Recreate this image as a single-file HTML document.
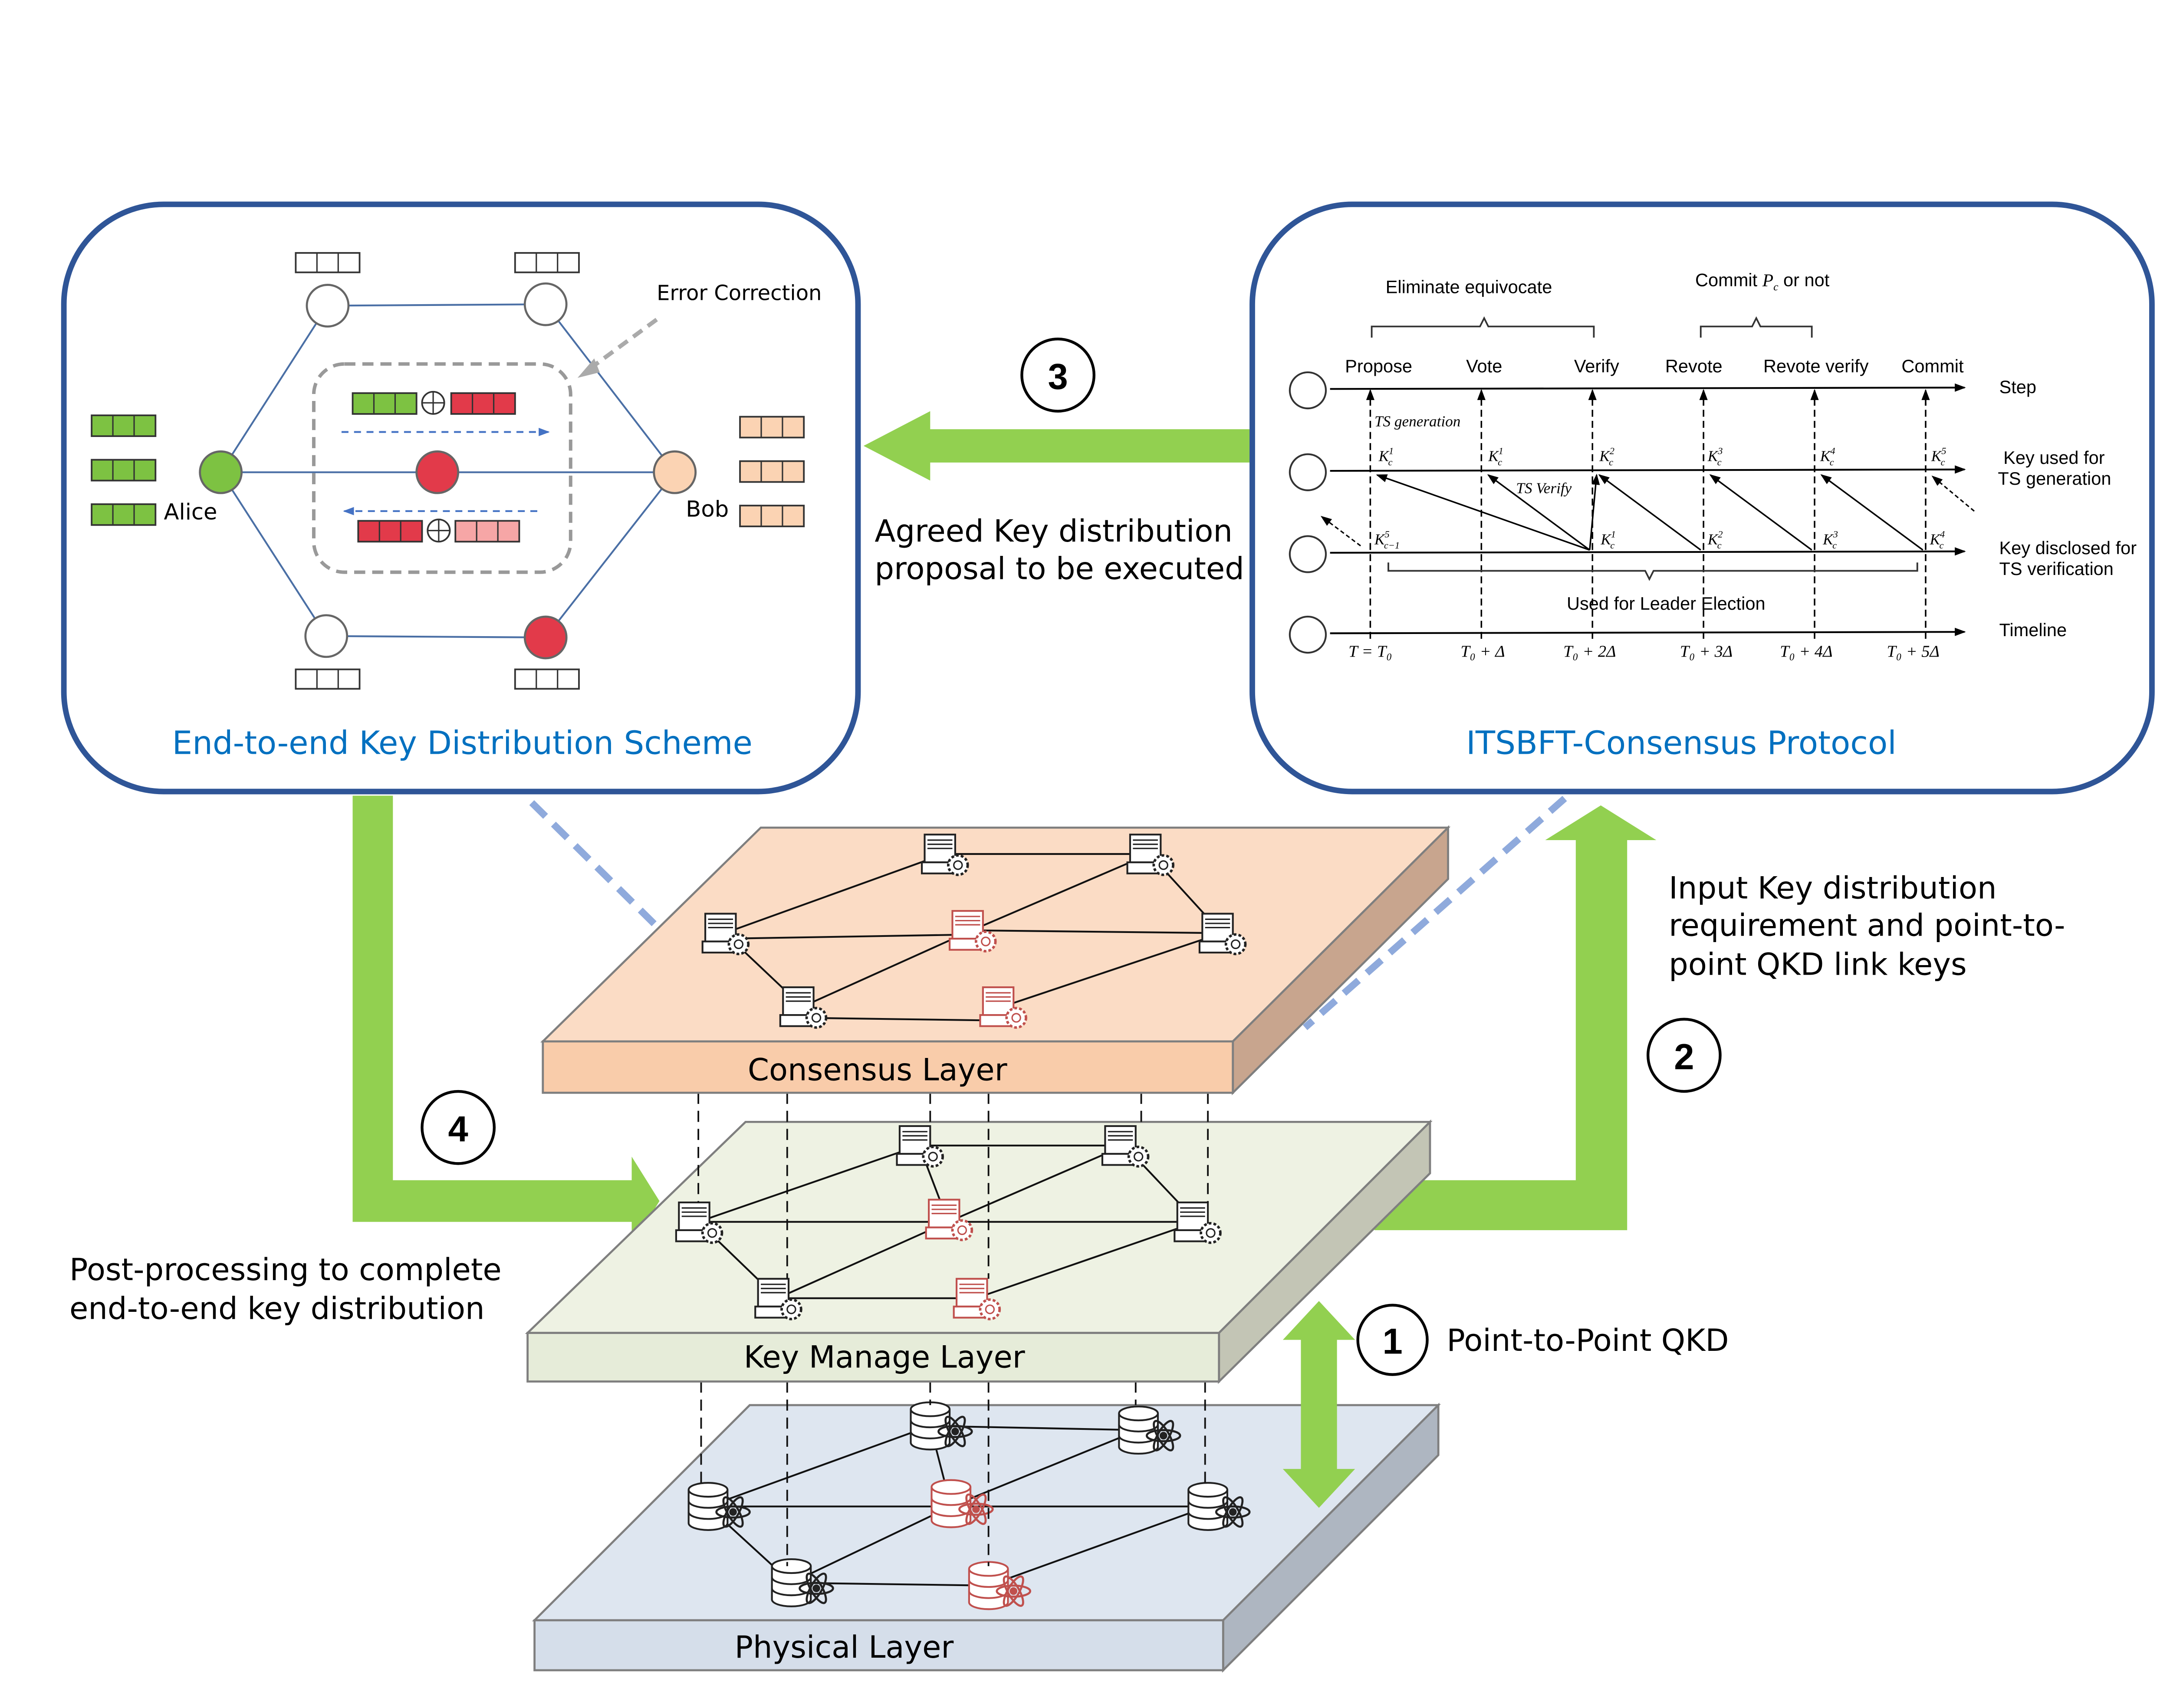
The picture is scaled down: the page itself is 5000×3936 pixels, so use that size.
<!DOCTYPE html>
<html><head><meta charset="utf-8"><style>html,body{margin:0;padding:0;background:#fff}svg{display:block}</style></head>
<body>
<svg width="5000" height="3936" viewBox="0 0 1563 1230" xmlns="http://www.w3.org/2000/svg" font-family="Liberation Sans, sans-serif">
<defs>
<marker id="ah" markerWidth="8" markerHeight="8" refX="7" refY="4" orient="auto" markerUnits="userSpaceOnUse"><path d="M0,1 L8,4 L0,7 z" fill="#000"/></marker>
<marker id="ahb" markerWidth="8" markerHeight="8" refX="7" refY="4" orient="auto" markerUnits="userSpaceOnUse"><path d="M0,1 L8,4 L0,7 z" fill="#4472c4"/></marker>
<g id="srv"><rect x="-14" y="-14" width="22" height="20" fill="#fff" stroke="#222" stroke-width="1.3"/><line x1="-12" y1="-10" x2="6" y2="-10" stroke="#222"/><line x1="-12" y1="-7" x2="6" y2="-7" stroke="#222"/><line x1="-12" y1="-4" x2="6" y2="-4" stroke="#222"/><rect x="-16" y="6" width="26" height="8" fill="#fff" stroke="#222" stroke-width="1.3"/><circle cx="10" cy="8" r="7" fill="#fff" stroke="#222" stroke-width="1.8" stroke-dasharray="2 1.5"/><circle cx="10" cy="8" r="3" fill="none" stroke="#222"/></g>
<g id="srvr"><rect x="-14" y="-14" width="22" height="20" fill="#fff" stroke="#c0504d" stroke-width="1.3"/><line x1="-12" y1="-10" x2="6" y2="-10" stroke="#c0504d"/><line x1="-12" y1="-7" x2="6" y2="-7" stroke="#c0504d"/><line x1="-12" y1="-4" x2="6" y2="-4" stroke="#c0504d"/><rect x="-16" y="6" width="26" height="8" fill="#fff" stroke="#c0504d" stroke-width="1.3"/><circle cx="10" cy="8" r="7" fill="#fff" stroke="#c0504d" stroke-width="1.8" stroke-dasharray="2 1.5"/><circle cx="10" cy="8" r="3" fill="none" stroke="#c0504d"/></g>
<g id="db"><path d="M-14,-12 v24 a14,5 0 0 0 28,0 v-24" fill="#fff" stroke="#222" stroke-width="1.3"/><ellipse cx="0" cy="-12" rx="14" ry="5" fill="#fff" stroke="#222" stroke-width="1.3"/><path d="M-14,-4 a14,5 0 0 0 28,0 M-14,4 a14,5 0 0 0 28,0" fill="none" stroke="#222" stroke-width="1.3"/><g transform="translate(18,4)" fill="none" stroke="#222" stroke-width="1.5"><ellipse rx="12" ry="4"/><ellipse rx="12" ry="4" transform="rotate(60)"/><ellipse rx="12" ry="4" transform="rotate(-60)"/><circle r="2" fill="#222"/></g></g>
<g id="dbr"><path d="M-14,-12 v24 a14,5 0 0 0 28,0 v-24" fill="#fff" stroke="#c0504d" stroke-width="1.3"/><ellipse cx="0" cy="-12" rx="14" ry="5" fill="#fff" stroke="#c0504d" stroke-width="1.3"/><path d="M-14,-4 a14,5 0 0 0 28,0 M-14,4 a14,5 0 0 0 28,0" fill="none" stroke="#c0504d" stroke-width="1.3"/><g transform="translate(18,4)" fill="none" stroke="#c0504d" stroke-width="1.5"><ellipse rx="12" ry="4"/><ellipse rx="12" ry="4" transform="rotate(60)"/><ellipse rx="12" ry="4" transform="rotate(-60)"/><circle r="2" fill="#c0504d"/></g></g>
<g id="b3w"><rect x="0" y="0" width="46" height="14" fill="#fff" stroke="#333" stroke-width="1.2"/><line x1="15.3" y1="0" x2="15.3" y2="14" stroke="#333"/><line x1="30.6" y1="0" x2="30.6" y2="14" stroke="#333"/></g>
<g id="b3g"><rect x="0" y="0" width="46" height="15" fill="#7dc242" stroke="#333" stroke-width="1.2"/><line x1="15.3" y1="0" x2="15.3" y2="15" stroke="#333"/><line x1="30.6" y1="0" x2="30.6" y2="15" stroke="#333"/></g>
<g id="b3p"><rect x="0" y="0" width="46" height="15" fill="#fbd3b3" stroke="#333" stroke-width="1.2"/><line x1="15.3" y1="0" x2="15.3" y2="15" stroke="#333"/><line x1="30.6" y1="0" x2="30.6" y2="15" stroke="#333"/></g>
<g id="b3r"><rect x="0" y="0" width="46" height="15" fill="#e23a4a" stroke="#333" stroke-width="1.2"/><line x1="15.3" y1="0" x2="15.3" y2="15" stroke="#333"/><line x1="30.6" y1="0" x2="30.6" y2="15" stroke="#333"/></g>
<g id="b3k"><rect x="0" y="0" width="46" height="15" fill="#f6a6a6" stroke="#333" stroke-width="1.2"/><line x1="15.3" y1="0" x2="15.3" y2="15" stroke="#333"/><line x1="30.6" y1="0" x2="30.6" y2="15" stroke="#333"/></g>
<g id="xor"><circle r="8" fill="#fff" stroke="#333" stroke-width="1.2"/><line x1="-8" y1="0" x2="8" y2="0" stroke="#333"/><line x1="0" y1="-8" x2="0" y2="8" stroke="#333"/></g>
</defs>

<line x1="383" y1="578" x2="478" y2="672" stroke="#8faadc" stroke-width="5" stroke-dasharray="14 8"/>
<line x1="1127" y1="575" x2="940" y2="740" stroke="#8faadc" stroke-width="5" stroke-dasharray="14 8"/>

<polygon points="900,309 670,309 670,296 622,321 670,346 670,333 900,333" fill="#92d050"/>
<polygon points="254,573 283,573 283,850 455,850 455,833 475,865 455,897 455,880 254,880" fill="#92d050"/>
<polygon points="990,850 1135,850 1135,605 1113,605 1153,580 1193,605 1172,605 1172,886 990,886" fill="#92d050"/>

<!-- physical -->
<polygon points="540,1012 1036,1012 881,1167 385,1167" fill="#dee6f0" stroke="#7f7f7f" stroke-width="1.5"/>
<polygon points="881,1167 1036,1012 1036,1048 881,1203" fill="#aeb6c1" stroke="#7f7f7f" stroke-width="1.5"/>
<rect x="385" y="1167" width="496" height="36" fill="#d5deea" stroke="#7f7f7f" stroke-width="1.5"/>
<text x="608" y="1194" font-size="22" text-anchor="middle" font-family="DejaVu Sans, sans-serif">Physical Layer</text>
<g stroke="#111" stroke-width="1.3">
<line x1="670" y1="1027" x2="820" y2="1030"/><line x1="670" y1="1027" x2="510" y2="1085"/><line x1="510" y1="1085" x2="685" y2="1085"/><line x1="685" y1="1085" x2="870" y2="1085"/><line x1="820" y1="1030" x2="685" y2="1085"/><line x1="510" y1="1085" x2="570" y2="1140"/><line x1="570" y1="1140" x2="712" y2="1142"/><line x1="570" y1="1140" x2="685" y2="1085"/><line x1="712" y1="1142" x2="870" y2="1085"/><line x1="670" y1="1027" x2="685" y2="1085"/>
</g>
<use href="#db" x="670" y="1027"/><use href="#db" x="820" y="1030"/><use href="#db" x="510" y="1085"/><use href="#dbr" x="685" y="1083"/><use href="#db" x="870" y="1085"/><use href="#db" x="570" y="1140"/><use href="#dbr" x="712" y="1142"/>

<!-- key manage -->
<g stroke="#111" stroke-width="1.2" stroke-dasharray="8 5">
<line x1="505" y1="995" x2="505" y2="1070"/><line x1="567" y1="995" x2="567" y2="1128"/><line x1="670" y1="995" x2="670" y2="1012"/><line x1="712" y1="995" x2="712" y2="1128"/><line x1="818" y1="995" x2="818" y2="1012"/><line x1="868" y1="995" x2="868" y2="1070"/>
</g>
<polygon points="537,808 1030,808 878,960 380,960" fill="#eef2e3" stroke="#7f7f7f" stroke-width="1.5"/>
<polygon points="878,960 1030,808 1030,845 878,995" fill="#c3c5b5" stroke="#7f7f7f" stroke-width="1.5"/>
<rect x="380" y="960" width="498" height="35" fill="#e6ecd9" stroke="#7f7f7f" stroke-width="1.5"/>
<text x="637" y="985" font-size="22" text-anchor="middle" font-family="DejaVu Sans, sans-serif">Key Manage Layer</text>
<g stroke="#111" stroke-width="1.3">
<line x1="662" y1="825" x2="810" y2="825"/><line x1="662" y1="825" x2="503" y2="880"/><line x1="503" y1="880" x2="683" y2="880"/><line x1="683" y1="880" x2="862" y2="880"/><line x1="810" y1="825" x2="683" y2="880"/><line x1="503" y1="880" x2="560" y2="935"/><line x1="560" y1="935" x2="703" y2="935"/><line x1="560" y1="935" x2="683" y2="880"/><line x1="703" y1="935" x2="862" y2="880"/><line x1="662" y1="825" x2="683" y2="880"/><line x1="810" y1="825" x2="862" y2="880"/>
</g>
<use href="#srv" x="662" y="825"/><use href="#srv" x="810" y="825"/><use href="#srv" x="503" y="880"/><use href="#srvr" x="683" y="878"/><use href="#srv" x="862" y="880"/><use href="#srv" x="560" y="935"/><use href="#srvr" x="703" y="935"/>

<!-- consensus -->
<g stroke="#111" stroke-width="1.2" stroke-dasharray="8 5">
<line x1="503" y1="787" x2="503" y2="866"/><line x1="567" y1="787" x2="567" y2="921"/><line x1="670" y1="787" x2="670" y2="810"/><line x1="712" y1="787" x2="712" y2="921"/><line x1="822" y1="787" x2="822" y2="810"/><line x1="870" y1="787" x2="870" y2="866"/>
</g>
<polygon points="548,596 1043,596 888,750 391,750" fill="#fbdcc5" stroke="#7f7f7f" stroke-width="1.5"/>
<polygon points="888,750 1043,596 1043,633 888,787" fill="#c8a58e" stroke="#7f7f7f" stroke-width="1.5"/>
<rect x="391" y="750" width="497" height="37" fill="#f9ccaa" stroke="#7f7f7f" stroke-width="1.5"/>
<text x="632" y="778" font-size="22" text-anchor="middle" font-family="DejaVu Sans, sans-serif">Consensus Layer</text>
<g stroke="#111" stroke-width="1.3">
<line x1="680" y1="615" x2="828" y2="615"/><line x1="680" y1="615" x2="522" y2="672"/><line x1="522" y1="676" x2="700" y2="673"/><line x1="700" y1="670" x2="880" y2="672"/><line x1="828" y1="615" x2="700" y2="670"/><line x1="522" y1="672" x2="578" y2="725"/><line x1="578" y1="733" x2="722" y2="735"/><line x1="578" y1="725" x2="700" y2="670"/><line x1="722" y1="725" x2="880" y2="672"/><line x1="828" y1="615" x2="880" y2="672"/>
</g>
<use href="#srv" x="680" y="615"/><use href="#srv" x="828" y="615"/><use href="#srv" x="522" y="672"/><use href="#srvr" x="700" y="670"/><use href="#srv" x="880" y="672"/><use href="#srv" x="578" y="725"/><use href="#srvr" x="722" y="725"/>

<!-- double arrow 1 (in front of layers) -->
<polygon points="950,937 976,965 963,965 963,1058 976,1058 950,1086 924,1058 937,1058 937,965 924,965" fill="#92d050"/>

<g fill="#fff" stroke="#000" stroke-width="2">
<circle cx="762" cy="270" r="26"/><circle cx="1213" cy="760" r="26"/><circle cx="330" cy="812" r="26"/><circle cx="1003" cy="965" r="25"/>
</g>
<g font-size="26" font-weight="bold" text-anchor="middle">
<text x="762" y="280">3</text><text x="1213" y="770">2</text><text x="330" y="822">4</text><text x="1003" y="975">1</text>
</g>

<g font-size="22" font-family="DejaVu Sans, sans-serif">
<text x="630" y="390">Agreed Key distribution</text><text x="630" y="417">proposal to be executed</text>
<text x="1202" y="647">Input Key distribution</text><text x="1202" y="674">requirement and point-to-</text><text x="1202" y="702">point QKD link keys</text>
<text x="50" y="922">Post-processing to complete</text><text x="50" y="950">end-to-end key distribution</text>
<text x="1042" y="973">Point-to-Point QKD</text>
</g>

<!-- left panel -->
<rect x="46" y="147" width="572" height="423" rx="72" fill="none" stroke="#2f5597" stroke-width="4"/>
<text x="333" y="543" font-size="23" fill="#0070c0" text-anchor="middle" font-family="DejaVu Sans, sans-serif" textLength="418" lengthAdjust="spacingAndGlyphs">End-to-end Key Distribution Scheme</text>
<g stroke="#4a6fa5" stroke-width="1.3" fill="none">
<polyline points="236,220 393,219 486,340 393,459 235,458 159,340 236,220"/>
<line x1="159" y1="340" x2="486" y2="340"/>
</g>
<rect x="226" y="262" width="185" height="150" rx="22" fill="none" stroke="#999" stroke-width="2.5" stroke-dasharray="8 5"/>
<g stroke="#666" stroke-width="1.5">
<circle cx="236" cy="220" r="15" fill="#fff"/><circle cx="393" cy="219" r="15" fill="#fff"/><circle cx="235" cy="458" r="15" fill="#fff"/>
<circle cx="393" cy="459" r="15" fill="#e23a4a"/><circle cx="159" cy="340" r="15" fill="#7dc242"/><circle cx="486" cy="340" r="15" fill="#fbd3b3"/><circle cx="315" cy="340" r="15" fill="#e23a4a"/>
</g>
<use href="#b3w" x="213" y="182"/><use href="#b3w" x="371" y="182"/><use href="#b3w" x="213" y="482"/><use href="#b3w" x="371" y="482"/>
<use href="#b3g" x="66" y="299"/><use href="#b3g" x="66" y="331"/><use href="#b3g" x="66" y="363"/>
<use href="#b3p" x="533" y="300"/><use href="#b3p" x="533" y="332"/><use href="#b3p" x="533" y="364"/>
<use href="#b3g" x="254" y="283"/><use href="#xor" x="312" y="290"/><use href="#b3r" x="325" y="283"/>
<use href="#b3r" x="258" y="375"/><use href="#xor" x="316" y="382"/><use href="#b3k" x="328" y="375"/>
<line x1="246" y1="311" x2="395" y2="311" stroke="#4472c4" stroke-width="1.3" stroke-dasharray="5 4" marker-end="url(#ahb)"/>
<line x1="387" y1="368" x2="248" y2="368" stroke="#4472c4" stroke-width="1.3" stroke-dasharray="5 4" marker-end="url(#ahb)"/>
<line x1="473" y1="230" x2="424" y2="266" stroke="#aaa" stroke-width="3" stroke-dasharray="8 5"/>
<polygon points="416,272 428,258 432,268" fill="#aaa"/>
<text x="473" y="216" font-size="15" font-family="DejaVu Sans, sans-serif">Error Correction</text>
<text x="118" y="374" font-size="16" font-family="DejaVu Sans, sans-serif">Alice</text>
<text x="494" y="372" font-size="16" font-family="DejaVu Sans, sans-serif">Bob</text>

<!-- right panel -->
<rect x="902" y="147" width="648" height="423" rx="72" fill="none" stroke="#2f5597" stroke-width="4"/>
<text x="1211" y="543" font-size="23" fill="#0070c0" text-anchor="middle" font-family="DejaVu Sans, sans-serif" textLength="310" lengthAdjust="spacingAndGlyphs">ITSBFT-Consensus Protocol</text>
<g fill="#fff" stroke="#333" stroke-width="1.3">
<circle cx="942" cy="281" r="13"/><circle cx="942" cy="340" r="13"/><circle cx="942" cy="399" r="13"/><circle cx="942" cy="457" r="13"/>
</g>
<g stroke="#000" stroke-width="1.3" marker-end="url(#ah)">
<line x1="958" y1="280" x2="1415" y2="279"/><line x1="958" y1="339" x2="1415" y2="338"/><line x1="958" y1="398" x2="1415" y2="397"/><line x1="958" y1="456" x2="1415" y2="455"/>
</g>
<g stroke="#000" stroke-width="1.1" stroke-dasharray="5 3">
<line x1="987" y1="460" x2="987" y2="290"/><line x1="1067" y1="460" x2="1067" y2="290"/><line x1="1147" y1="460" x2="1147" y2="290"/><line x1="1227" y1="460" x2="1227" y2="290"/><line x1="1307" y1="460" x2="1307" y2="290"/><line x1="1387" y1="460" x2="1387" y2="290"/>
</g>
<g stroke="#000" stroke-width="1.1" marker-end="url(#ah)">
<line x1="987" y1="292" x2="987" y2="281"/><line x1="1067" y1="292" x2="1067" y2="281"/><line x1="1147" y1="292" x2="1147" y2="281"/><line x1="1227" y1="292" x2="1227" y2="281"/><line x1="1307" y1="292" x2="1307" y2="281"/><line x1="1387" y1="292" x2="1387" y2="281"/>
<line x1="1145" y1="396" x2="992" y2="342"/><line x1="1145" y1="396" x2="1072" y2="342"/><line x1="1145" y1="396" x2="1150" y2="342"/><line x1="1225" y1="396" x2="1152" y2="342"/><line x1="1305" y1="396" x2="1232" y2="342"/><line x1="1385" y1="396" x2="1312" y2="342"/>
</g>
<line x1="980" y1="393" x2="952" y2="372" stroke="#000" stroke-dasharray="3 2" marker-end="url(#ah)"/>
<line x1="1422" y1="368" x2="1392" y2="343" stroke="#000" stroke-dasharray="3 2" marker-end="url(#ah)"/>
<g font-size="13" text-anchor="middle">
<text x="993" y="268">Propose</text><text x="1069" y="268">Vote</text><text x="1150" y="268">Verify</text><text x="1220" y="268">Revote</text><text x="1308" y="268">Revote verify</text><text x="1392" y="268">Commit</text>
<text x="1058" y="211">Eliminate equivocate</text><text x="1200" y="439">Used for Leader Election</text>
</g>
<text x="1221" y="206" font-size="13">Commit <tspan font-family="Liberation Serif" font-style="italic">P<tspan font-size="8" dy="3">c</tspan></tspan><tspan dy="-3"> or not</tspan></text>
<g font-size="13">
<text x="1440" y="283">Step</text><text x="1443" y="334">Key used for</text><text x="1439" y="349">TS generation</text><text x="1440" y="399">Key disclosed for</text><text x="1440" y="414">TS verification</text><text x="1440" y="458">Timeline</text>
</g>
<g fill="none" stroke="#333" stroke-width="1.2">
<path d="M988,243 v-8 h78 l3,-6 l3,6 h76 v8"/>
<path d="M1225,243 v-8 h37 l3,-6 l3,6 h37 v8"/>
<path d="M1000,405 v6 h185 l3,6 l3,-6 h190 v-6"/>
</g>
<g font-family="Liberation Serif, serif" font-style="italic" font-size="11">
<text x="990" y="307">TS generation</text><text x="1092" y="355">TS Verify</text>
<text x="993" y="332">K<tspan font-size="7" dy="-5">1</tspan><tspan font-size="7" dx="-4" dy="8">c</tspan></text>
<text x="1072" y="332">K<tspan font-size="7" dy="-5">1</tspan><tspan font-size="7" dx="-4" dy="8">c</tspan></text>
<text x="1152" y="332">K<tspan font-size="7" dy="-5">2</tspan><tspan font-size="7" dx="-4" dy="8">c</tspan></text>
<text x="1230" y="332">K<tspan font-size="7" dy="-5">3</tspan><tspan font-size="7" dx="-4" dy="8">c</tspan></text>
<text x="1311" y="332">K<tspan font-size="7" dy="-5">4</tspan><tspan font-size="7" dx="-4" dy="8">c</tspan></text>
<text x="1391" y="332">K<tspan font-size="7" dy="-5">5</tspan><tspan font-size="7" dx="-4" dy="8">c</tspan></text>
<text x="990" y="392">K<tspan font-size="7" dy="-5">5</tspan><tspan font-size="7" dx="-4" dy="8">c−1</tspan></text>
<text x="1153" y="392">K<tspan font-size="7" dy="-5">1</tspan><tspan font-size="7" dx="-4" dy="8">c</tspan></text>
<text x="1230" y="392">K<tspan font-size="7" dy="-5">2</tspan><tspan font-size="7" dx="-4" dy="8">c</tspan></text>
<text x="1313" y="392">K<tspan font-size="7" dy="-5">3</tspan><tspan font-size="7" dx="-4" dy="8">c</tspan></text>
<text x="1390" y="392">K<tspan font-size="7" dy="-5">4</tspan><tspan font-size="7" dx="-4" dy="8">c</tspan></text>
</g>
<g font-family="Liberation Serif, serif" font-style="italic" font-size="12" text-anchor="middle">
<text x="987" y="473">T = T₀</text><text x="1068" y="473">T₀ + Δ</text><text x="1145" y="473">T₀ + 2Δ</text><text x="1229" y="473">T₀ + 3Δ</text><text x="1301" y="473">T₀ + 4Δ</text><text x="1378" y="473">T₀ + 5Δ</text>
</g>
</svg>
</body></html>
